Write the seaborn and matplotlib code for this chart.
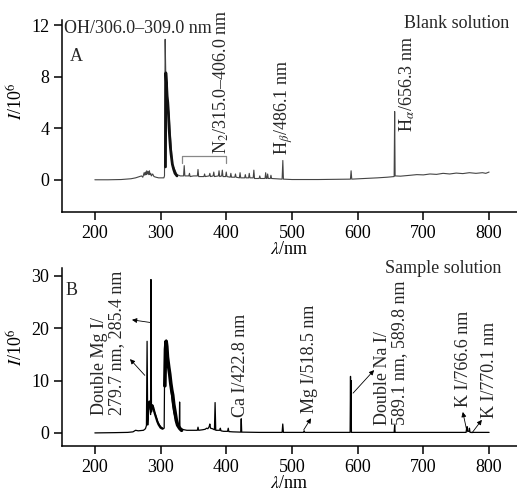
import matplotlib
matplotlib.use("Agg")
import matplotlib.pyplot as plt
import seaborn as sns

# ---------------- data ----------------
blank_wl = [200, 220, 240, 255, 262, 268, 271, 273, 275, 276, 277, 278, 279, 280, 281, 282, 283, 284,
            285, 286, 288, 290, 293, 297, 301, 305, 306, 307, 308, 310, 313.5, 318, 325, 330, 335, 336,
            337, 343, 344, 345, 350, 356, 357, 358, 366, 367, 368, 374, 375, 376, 380, 381, 382, 388,
            389, 390, 393, 394, 395, 399, 400, 401, 406, 407, 408, 413, 414, 415, 420, 421, 422, 428,
            429, 430, 434, 435, 436, 441, 442, 443, 450, 451, 452, 459, 460, 461, 462, 463, 464, 467,
            468, 469, 485, 486.1, 487, 500, 540, 589, 590, 591, 610, 630, 645, 655.5, 656.3, 657, 665,
            680, 690, 700, 710, 720, 730, 740, 750, 760, 770, 780, 790, 795, 800]
blank_I = [0.0, 0.0, 0.02, 0.08, 0.15, 0.25, 0.3, 0.2, 0.55, 0.35, 0.6, 0.4, 0.7, 0.45, 0.65, 0.4, 0.7, 0.4,
           0.5, 0.3, 0.45, 0.25, 0.2, 0.15, 0.15, 0.15, 0.3, 10.9, 8.0, 6.5, 4.7, 1.2, 0.4, 0.3, 0.3, 1.1,
           0.3, 0.3, 0.5, 0.25, 0.3, 0.3, 0.8, 0.25, 0.25, 0.45, 0.25, 0.3, 0.5, 0.25, 0.3, 0.6, 0.25, 0.3,
           0.7, 0.25, 0.3, 0.75, 0.25, 0.25, 0.6, 0.25, 0.2, 0.5, 0.2, 0.2, 0.45, 0.2, 0.15, 0.55, 0.15, 0.15,
           0.4, 0.15, 0.15, 0.5, 0.15, 0.15, 0.75, 0.1, 0.1, 0.3, 0.1, 0.1, 0.55, 0.1, 0.1, 0.45, 0.1, 0.1,
           0.35, 0.1, 0.05, 1.5, 0.05, 0.02, 0.02, 0.05, 0.7, 0.05, 0.1, 0.15, 0.2, 0.25, 5.3, 0.3, 0.28,
           0.35, 0.4, 0.38, 0.45, 0.42, 0.5, 0.45, 0.52, 0.48, 0.55, 0.5, 0.55, 0.5, 0.6]

blank_band_wl = [307.5, 308, 309, 310, 311, 312, 313, 314, 315, 316, 317, 318, 320, 322, 325]
blank_band_I = [1.0, 8.3, 7.5, 6.5, 6.0, 5.2, 4.0, 3.2, 2.5, 2.0, 1.6, 1.2, 0.8, 0.5, 0.3]

sample_wl = [200, 230, 250, 258, 262, 266, 270, 274, 277, 278.5, 279.5, 280.5, 282, 283.5, 284.8, 285.4,
             286.2, 288, 290, 293, 296, 300, 304, 305.5, 306, 307, 309, 311, 313, 316, 320, 324, 327,
             328.5, 329, 329.5, 333, 336, 340, 348, 352, 356, 357, 358, 364, 368, 370, 372, 374, 375,
             376, 379, 382, 383, 384, 388, 390, 391, 392, 396, 402, 403, 404, 410, 422, 422.8, 423.5,
             450, 485, 486, 487, 517.5, 518.5, 519.5, 560, 588.5, 589.1, 589.5, 589.8, 590.5, 620,
             655.5, 656.3, 657, 700, 765, 766, 766.6, 767.5, 769.5, 770.1, 771, 800]
sample_I = [0.0, 0.05, 0.1, 0.2, 0.5, 0.4, 0.45, 0.5, 0.8, 1.4, 17.5, 1.5, 5.0, 6.0, 3.5, 29.3,
            4.0, 5.0, 4.3, 3.2, 2.0, 1.2, 0.8, 0.9, 9.0, 12.0, 17.7, 14.0, 12.0, 8.0, 4.0, 2.0, 1.2,
            1.0, 5.9, 0.9, 0.7, 0.6, 0.5, 0.5, 0.5, 0.5, 1.1, 0.5, 0.6, 0.7, 0.9, 0.8, 1.2, 1.7,
            0.9, 0.8, 0.6, 5.8, 0.5, 0.5, 0.5, 0.9, 0.4, 0.3, 0.3, 0.9, 0.25, 0.2, 0.15, 2.7, 0.15,
            0.1, 0.1, 1.7, 0.1, 0.1, 0.4, 0.1, 0.1, 0.1, 10.8, 1.0, 10.0, 0.1, 0.1,
            0.1, 1.5, 0.1, 0.1, 0.1, 1.0, 1.2, 0.3, 0.3, 0.9, 0.1, 0.1]

sample_band_wl = [306.5, 307.5, 308.5, 309.5, 310.5, 311.5, 312.5, 314, 315.5, 317, 318.5, 320, 322,
                  324, 326, 329, 332]
sample_band_I = [9.0, 16.0, 17.5, 16.5, 14.5, 13.5, 12.5, 11.2, 9.5, 8.2, 7.2, 5.5, 4.0, 2.4, 1.5, 0.9, 0.5]

sample_band2_wl = [281.5, 283, 284.5, 286, 287.5, 289, 291, 293, 295, 297, 300, 303]
sample_band2_I = [4.5, 6.0, 5.0, 4.6, 5.3, 4.8, 3.8, 3.0, 2.2, 1.6, 1.0, 0.8]

x_ticks = [200, 300, 400, 500, 600, 700, 800]
yA_ticks = [0, 4, 8, 12]
yB_ticks = [0, 10, 20, 30]

# ---------------- style ----------------
sns.set_theme(style="ticks")
plt.rcParams['font.family'] = ['Liberation Serif', 'DejaVu Serif']
plt.rcParams['mathtext.fontset'] = 'stix'
FS = 13

fig = plt.figure(figsize=(5.17, 4.91), dpi=100)
axA = fig.add_axes([62 / 517, (491 - 212) / 491, 455 / 517, 192 / 491])
axB = fig.add_axes([62 / 517, (491 - 446) / 491, 455 / 517, 178 / 491])

sns.lineplot(x=blank_wl, y=blank_I, ax=axA, estimator=None, sort=False, color='#444444', lw=0.8)
sns.lineplot(x=blank_band_wl, y=blank_band_I, ax=axA, estimator=None, sort=False, color='#111111', lw=2.0)

sns.lineplot(x=sample_wl, y=sample_I, ax=axB, estimator=None, sort=False, color='black', lw=0.9)
sns.lineplot(x=sample_band_wl, y=sample_band_I, ax=axB, estimator=None, sort=False, color='black', lw=2.6)
sns.lineplot(x=sample_band2_wl, y=sample_band2_I, ax=axB, estimator=None, sort=False, color='black', lw=1.6)

for ax, yt, ylim, ylab_y in [(axA, yA_ticks, (-2.5, 12.4), 0.575), (axB, yB_ticks, (-2.5, 31.5), 0.556)]:
    ax.set_xlim(150, 842.5)
    ax.set_ylim(*ylim)
    ax.set_xticks(x_ticks)
    ax.set_yticks(yt)
    sns.despine(ax=ax)
    for s in ['left', 'bottom']:
        ax.spines[s].set_linewidth(1.1)
        ax.spines[s].set_color('black')
    ax.tick_params(direction='out', length=6, width=1.1, labelsize=FS, pad=3,
                   color='black', labelcolor='black')
    ax.set_xlabel('$\\lambda$/nm', fontsize=FS, labelpad=0, color='black')
    ax.set_ylabel('$I$/10$^6$', fontsize=FS, color='black')
    ax.yaxis.set_label_coords(-0.078, ylab_y)
    ax.grid(False)

# ---------------- annotations, panel A ----------------
axA.text(153, 11.4, 'OH/306.0–309.0 nm', fontsize=FS, ha='left', va='baseline')
axA.text(162, 9.2, 'A', fontsize=FS, ha='left', va='baseline')
axA.text(670.5, 11.77, 'Blank solution', fontsize=FS, ha='left', va='baseline')
axA.plot([332, 332, 400, 400], [1.3, 1.85, 1.85, 1.3], color='#888888', lw=0.9)
axA.text(392, 2.0, 'N$_2$/315.0–406.0 nm', fontsize=FS, rotation=90, ha='center', va='bottom')
axA.text(488, 1.9, 'H$_\\beta$/486.1 nm', fontsize=FS, rotation=90, ha='center', va='bottom')
axA.text(676, 3.7, 'H$_\\alpha$/656.3 nm', fontsize=FS, rotation=90, ha='center', va='bottom')

# ---------------- annotations, panel B ----------------
axB.text(156, 26.3, 'B', fontsize=FS, ha='left', va='baseline')
axB.text(641.6, 30.5, 'Sample solution', fontsize=FS, ha='left', va='baseline')
axB.text(220, 3.4, 'Double Mg I/\n279.7 nm, 285.4 nm', fontsize=FS, rotation=90, ha='center',
         va='bottom', multialignment='left', linespacing=1.05)
axB.text(421, 3.1, 'Ca I/422.8 nm', fontsize=FS, rotation=90, ha='center', va='bottom')
axB.text(527, 3.8, 'Mg I/518.5 nm', fontsize=FS, rotation=90, ha='center', va='bottom')
axB.text(651, 1.5, 'Double Na I/\n589.1 nm, 589.8 nm', fontsize=FS, rotation=90, ha='center',
         va='bottom', multialignment='left', linespacing=1.05)
axB.text(761, 4.9, 'K I/766.6 nm', fontsize=FS, rotation=90, ha='center', va='bottom')
axB.text(801, 2.8, 'K I/770.1 nm', fontsize=FS, rotation=90, ha='center', va='bottom')

arrow_kw = dict(arrowstyle='-|>', lw=0.6, color='black', mutation_scale=7, shrinkA=0, shrinkB=0)
for head, tail in [((256.5, 21.6), (284, 21.1)), ((253.5, 14.1), (276, 11.0)), ((625, 12.0), (593, 7.6)),
                   ((529, 2.8), (518, 0.6)), ((760, 4.0), (766.5, 0.2)), ((789, 2.5), (774, 0.0))]:
    axB.annotate('', xy=head, xytext=tail, arrowprops=arrow_kw)

fig.savefig('out.png', dpi=100)
